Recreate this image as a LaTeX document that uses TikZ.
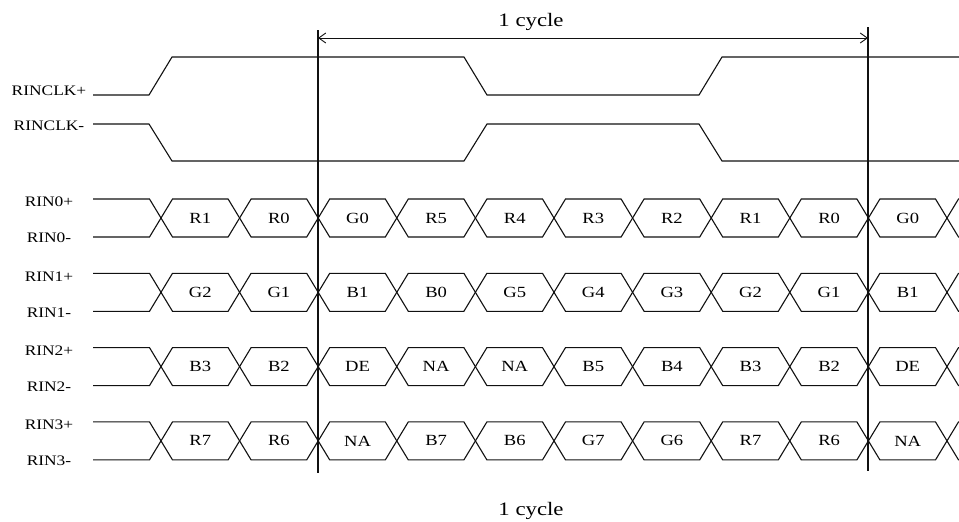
\documentclass[tikz,border=0pt]{standalone}
\usepackage{fontspec}
\setmainfont{Liberation Serif}[FakeStretch=1.2]
\usepackage{xcolor}
\definecolor{waveInk}{HTML}{111111}
\usepackage{tikz}
\usetikzlibrary{arrows.meta,calc}
\tikzset{
    wave/.style={
        draw=waveInk,
        line width=1.1pt,
        line join=miter
    },
    marker/.style={
        draw=waveInk,
        line width=1.3pt
    },
    cyclearrow/.style={
        <->,
        >={Straight Barb[length=7pt,width=10pt]},
        line width=0.9pt,
        draw=waveInk
    },
    signame/.style={
        font=\fontsize{14.5}{16}\selectfont,
        inner sep=0pt
    },
    bitname/.style={
        font=\fontsize{15.5}{17}\selectfont,
        inner sep=0pt
    },
    cyclename/.style={
        font=\fontsize{19}{21}\selectfont,
        inner sep=0pt
    }
}
\begin{document}
\begin{tikzpicture}[x=1pt,y=-1pt]
    \useasboundingbox (0,0) rectangle (959,522);

    % clock pair
    \node[signame] (clkp) at (49,91) {RINCLK+};
    \node[signame] (clkn) at (49,126) {RINCLK-};
    \draw[wave] (93,95) -- (149,95) -- (172,57) -- (464,57) -- (487,95) -- (699,95) -- (722,57) -- (959,57);
    \draw[wave] (93,124) -- (149,124) -- (172,161) -- (464,161) -- (487,124) -- (699,124) -- (722,161) -- (959,161);

    % data lanes
    \foreach \lane/\bits in {0/{R1,R0,G0,R5,R4,R3,R2,R1,R0,G0},
                             1/{G2,G1,B1,B0,G5,G4,G3,G2,G1,B1},
                             2/{B3,B2,DE,NA,NA,B5,B4,B3,B2,DE},
                             3/{R7,R6,NA,B7,B6,G7,G6,R7,R6,NA}} {
        \pgfmathsetmacro{\yt}{199+74.3*\lane}
        \pgfmathsetmacro{\yb}{\yt+38}
        \pgfmathsetmacro{\ym}{\yt+19}
        \node[signame] (rin\lane p) at (49,\yt+3) {RIN\lane+};
        \node[signame] (rin\lane n) at (49,\yb+1) {RIN\lane-};
        \draw[wave] (93,\yt) -- (149.5,\yt) -- (161,\ym) -- (149.5,\yb) -- (93,\yb);
        \foreach \b [count=\k from 0] in \bits {
            \pgfmathsetmacro{\xa}{161+78.6*\k}
            \pgfmathsetmacro{\xb}{\xa+78.6}
            \draw[wave] (\xa,\ym) -- (\xa+11.5,\yt) -- (\xb-11.5,\yt) -- (\xb,\ym)
                -- (\xb-11.5,\yb) -- (\xa+11.5,\yb) -- cycle;
            \node[bitname] (bit\lane-\k) at ({(\xa+\xb)/2},\ym) {\b};
        }
        \draw[wave] (959,\yt) -- (958.5,\yt) -- (947,\ym) -- (958.5,\yb) -- (959,\yb);
    }

    % cycle markers
    \coordinate (mAtop) at (318,30);
    \coordinate (mAbot) at (318,473);
    \coordinate (mBtop) at (868,27);
    \coordinate (mBbot) at (868,471);
    \draw[marker] (mAtop) -- (mAbot);
    \draw[marker] (mBtop) -- (mBbot);
    \coordinate (cycA) at (318,38);
    \coordinate (cycB) at (868,38);
    \draw[cyclearrow] (cycA) -- (cycB);
    \node[cyclename] (cyctop) at (531,22) {1 cycle};
    \node[cyclename] (cycbot) at (531,511) {1 cycle};
\end{tikzpicture}
\end{document}
